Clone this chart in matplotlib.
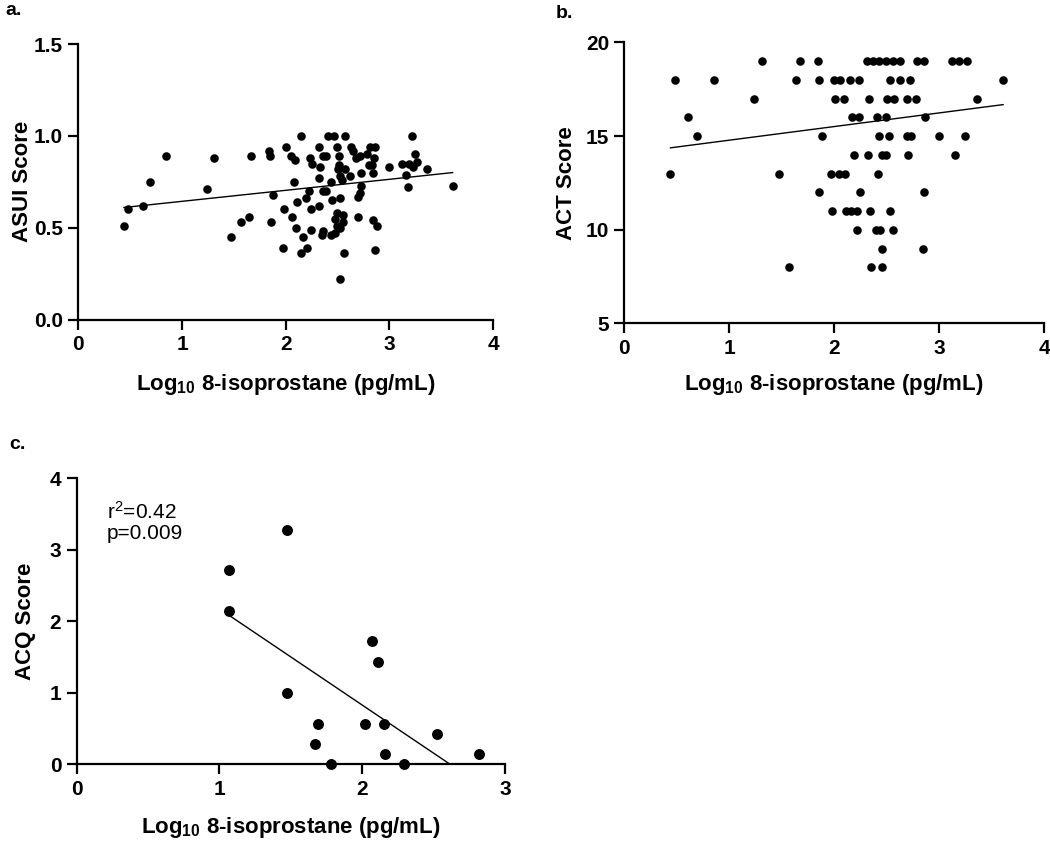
import numpy as np
import matplotlib
matplotlib.use('Agg')
import matplotlib.pyplot as plt

plt.rcParams['font.family'] = ['Liberation Sans', 'DejaVu Sans']
plt.rcParams['mathtext.default'] = 'regular'

# a. ASUI score vs log10 8-isoprostane
asui_x = [0.44, 0.48, 0.62, 0.69, 0.85, 1.24, 1.31, 1.47, 1.57, 1.65,
          1.67, 1.84, 1.85, 1.86, 1.88, 1.98, 1.97, 2.00, 2.15, 2.41,
          2.47, 2.57, 3.22, 2.32, 2.49, 2.63, 2.81, 2.86, 2.05, 2.09,
          2.23, 2.25, 2.36, 2.39, 2.51, 2.65, 2.68, 2.72, 2.78, 2.85,
          2.33, 2.51, 2.50, 2.57, 2.80, 2.83, 2.73, 2.84, 3.00, 3.12,
          3.16, 3.18, 2.52, 2.54, 2.62, 2.32, 2.44, 2.08, 2.73, 2.22,
          2.36, 2.39, 2.20, 2.11, 2.45, 2.52, 2.70, 2.72, 2.24, 2.32,
          2.06, 2.49, 2.55, 2.48, 2.55, 2.49, 2.52, 2.36, 2.48, 2.35,
          2.44, 2.70, 2.84, 2.88, 2.10, 2.24, 2.17, 2.21, 2.15, 2.56,
          2.86, 2.52, 3.36, 3.61, 3.25, 3.27, 3.23, 3.19]
asui_y = [0.51, 0.60, 0.62, 0.75, 0.89, 0.71, 0.88, 0.45, 0.53, 0.56,
          0.89, 0.92, 0.89, 0.53, 0.68, 0.60, 0.39, 0.94, 1.00, 1.00,
          1.00, 1.00, 1.00, 0.94, 0.94, 0.94, 0.94, 0.94, 0.89, 0.87,
          0.88, 0.85, 0.89, 0.89, 0.89, 0.92, 0.88, 0.89, 0.90, 0.88,
          0.83, 0.84, 0.82, 0.82, 0.84, 0.84, 0.80, 0.80, 0.83, 0.85,
          0.79, 0.72, 0.78, 0.76, 0.78, 0.77, 0.75, 0.75, 0.73, 0.70,
          0.70, 0.70, 0.66, 0.64, 0.65, 0.66, 0.67, 0.69, 0.60, 0.62,
          0.56, 0.58, 0.57, 0.55, 0.53, 0.51, 0.50, 0.48, 0.47, 0.46,
          0.46, 0.56, 0.54, 0.51, 0.50, 0.49, 0.45, 0.39, 0.36, 0.36,
          0.38, 0.22, 0.82, 0.73, 0.90, 0.86, 0.83, 0.85]
asui_fit = (0.060, 0.584)  # slope, intercept of the drawn regression line

# b. ACT score (integer rows)
act_rows = {
    19: [1.31, 1.67, 1.85, 2.31, 2.37, 2.43, 2.49, 2.56, 2.63, 2.79, 2.86, 3.12, 3.19, 3.27],
    18: [0.48, 0.85, 1.64, 1.86, 2.00, 2.06, 2.15, 2.24, 2.53, 2.63, 2.72, 3.61],
    17: [1.24, 2.01, 2.09, 2.33, 2.50, 2.57, 2.69, 2.78, 3.36],
    16: [0.61, 2.17, 2.24, 2.41, 2.49, 2.87],
    15: [0.69, 1.88, 2.43, 2.52, 2.69, 2.73, 3.00, 3.25],
    14: [2.19, 2.32, 2.46, 2.49, 2.70, 3.15],
    13: [0.44, 1.47, 1.97, 2.05, 2.10, 2.42],
    12: [1.86, 2.25, 2.86],
    11: [1.98, 2.11, 2.16, 2.22, 2.34, 2.53],
    10: [2.22, 2.40, 2.44, 2.56],
    9: [2.46, 2.85],
    8: [1.57, 2.35, 2.46],
}
act_x = [x for score, xs in act_rows.items() for x in xs]
act_y = [score for score, xs in act_rows.items() for x in xs]
act_fit = (0.727, 14.05)

# c. ACQ score
acq_x = [1.47, 1.07, 1.07, 2.07, 2.11, 1.47, 1.69, 2.02, 2.15, 1.67, 2.52, 2.16, 2.82, 1.78, 2.29]
acq_y = [3.28, 2.71, 2.14, 1.72, 1.43, 1.00, 0.57, 0.57, 0.57, 0.28, 0.43, 0.14, 0.14, 0.00, 0.00]
acq_fit = (-1.346, 3.52)
acq_stats = ['r$^{\\mathregular{2}}$=0.42', 'p=0.009']

xlabel = r'Log$_{\mathregular{10}}$ 8-isoprostane (pg/mL)'


def style_axis(ax, xlim, ylim, xticks, yticks, ylabel, yfmt=None, xpad=10, ypad=6):
    ax.set_xlim(*xlim)
    ax.set_ylim(*ylim)
    ax.set_xticks(xticks)
    ax.set_yticks(yticks)
    if yfmt:
        ax.set_yticklabels([yfmt.format(t) for t in yticks])
    for s in ['top', 'right']:
        ax.spines[s].set_visible(False)
    for s in ['left', 'bottom']:
        ax.spines[s].set_linewidth(1.6)
    ax.tick_params(width=1.6, length=7, labelsize=15, pad=4)
    for lab in ax.get_xticklabels() + ax.get_yticklabels():
        lab.set_fontweight('bold')
    ax.set_xlabel(xlabel, fontsize=16, fontweight='bold', labelpad=xpad)
    ax.set_ylabel(ylabel, fontsize=16, fontweight='bold', labelpad=ypad)


def scatter_fit(ax, x, y, fit, size):
    x = np.array(x)
    ax.scatter(x, y, s=size, color='black', clip_on=False, zorder=3, linewidths=0)
    k, b = fit
    xs = np.array([x.min(), x.max()])
    ax.plot(xs, k * xs + b, color='black', lw=1.0, zorder=2)


fig = plt.figure(figsize=(10.5, 8.42), dpi=100)

ax_a = fig.add_axes([0.0746, 0.6205, 0.395, 0.327])
scatter_fit(ax_a, asui_x, asui_y, asui_fit, 38)
style_axis(ax_a, (0, 4), (0, 1.5), [0, 1, 2, 3, 4], [0, 0.5, 1.0, 1.5], 'ASUI Score', '{:.1f}',
           xpad=13, ypad=0.5)

ax_b = fig.add_axes([0.5946, 0.6158, 0.3997, 0.334])
scatter_fit(ax_b, act_x, act_y, act_fit, 38)
style_axis(ax_b, (0, 4), (5, 20), [0, 1, 2, 3, 4], [5, 10, 15, 20], 'ACT Score')

ax_c = fig.add_axes([0.073, 0.0923, 0.408, 0.3397])
scatter_fit(ax_c, acq_x, acq_y, acq_fit, 62)
style_axis(ax_c, (0, 3), (0, 4), [0, 1, 2, 3], [0, 1, 2, 3, 4], 'ACQ Score', xpad=12, ypad=10)
ax_c.text(0.21, 3.69, '\n'.join(acq_stats), fontsize=15,
          va='top', ha='left', linespacing=1.1)

fig.text(0.005, 0.998, 'a.', fontsize=14, fontweight='bold', va='top')
fig.text(0.529, 0.994, 'b.', fontsize=14, fontweight='bold', va='top')
fig.text(0.009, 0.482, 'c.', fontsize=14, fontweight='bold', va='top')

fig.savefig('out.png', dpi=100)
